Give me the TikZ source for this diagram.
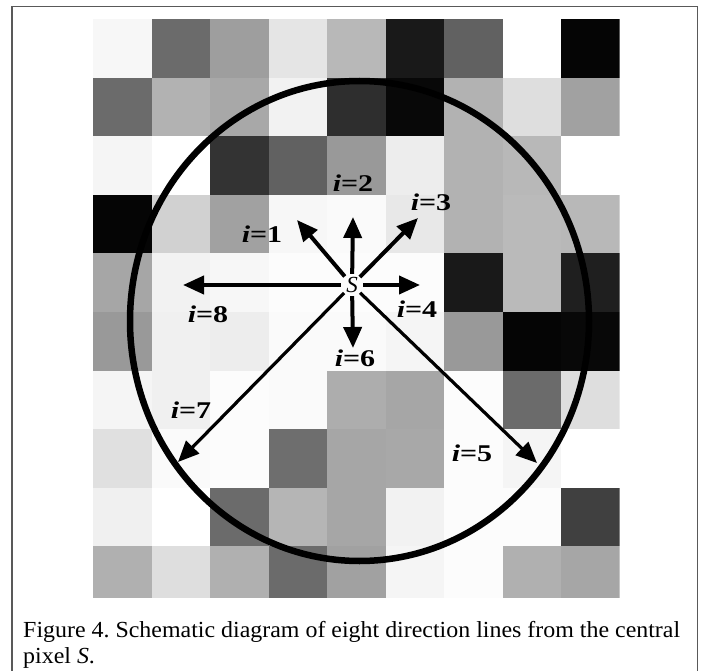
\documentclass[tikz,border=0pt]{standalone}
\usepackage{fontspec}
\setmainfont{Liberation Serif}
\usetikzlibrary{arrows.meta}
\frenchspacing

\begin{document}
\begin{tikzpicture}[x=1pt, y=-1pt]
  \useasboundingbox (0,0) rectangle (707,671);
  \tikzset{
    dirlab/.style={font=\fontsize{24}{24}\selectfont\bfseries, inner sep=0pt},
    ray/.style={line width=4pt, -{Triangle[length=21pt,width=18pt]}},
    longray/.style={ray, line width=3.2pt},
    caption/.style={font=\fontsize{23}{28}\selectfont, inner sep=0pt, anchor=base west},
  }
  \newcommand{\dirtext}[1]{\scalebox{1.25}[1]{\textit{i}=#1}}
  % grey pixels, whiteness in percent, one row per line
  \begin{scope}
    \clip (93,19.5) rectangle (619.5,597);
    \foreach \row [count=\r from 0] in {
        {97,42,62,90,72,10,38,100,2},
        {42,70,66,95,18,3,70,87,63},
        {96,100,20,38,60,93,70,72,100},
        {2,82,63,97,98,91,70,73,72},
        {65,95,97,99,99,99,10,73,12},
        {60,94,93,98,98,96,60,2,3},
        {96,94,99,98,68,65,99,42,87},
        {88,98,99,43,65,66,99,96,100},
        {94,100,42,71,65,95,99,99,25},
        {69,87,69,42,63,96,99,69,65}}{
      \foreach \v [count=\c from 0] in \row
        \fill[white!\v!black] (93+58.5*\c, 19.5+58.5*\r) rectangle ++(58.5,58.5);
    }
  \end{scope}

  \draw[black!65, line width=1.5pt] (12,671) -- (12,6.5) -- (697.5,6.5) -- (697.5,671);
  \draw[line width=6.5pt] (359.5,321) ellipse [x radius=229.5pt, y radius=240pt];

  \node[font=\fontsize{23}{23}\selectfont\itshape, circle, minimum size=22pt, inner sep=0pt] (S) at (352,285) {S};

  \coordinate (t1) at (297,220);
  \coordinate (t2) at (353,217);
  \coordinate (t3) at (418,218);
  \coordinate (t4) at (420,285);
  \coordinate (t5) at (537,463);
  \coordinate (t6) at (353,348);
  \coordinate (t7) at (178,462);
  \coordinate (t8) at (183,285);

  \draw[ray] (S) -- (t1);
  \draw[ray] (S) -- (t2);
  \draw[ray] (S) -- (t3);
  \draw[ray] (S) -- (t4);
  \draw[longray] (S) -- (t5);
  \draw[ray] (S) -- (t6);
  \draw[longray] (S) -- (t7);
  \draw[ray] (S) -- (t8);

  \node[dirlab] (l1) at (262,234) {\dirtext{1}};
  \node[dirlab] (l2) at (353,183) {\dirtext{2}};
  \node[dirlab] (l3) at (431,202) {\dirtext{3}};
  \node[dirlab] (l4) at (417,309) {\dirtext{4}};
  \node[dirlab] (l5) at (472,453) {\dirtext{5}};
  \node[dirlab] (l6) at (355,358) {\dirtext{6}};
  \node[dirlab] (l7) at (191,410) {\dirtext{7}};
  \node[dirlab] (l8) at (208,314) {\dirtext{8}};

  \node[caption] (cap1) at (23,637) {\scalebox{1.04}[1]{Figure 4. Schematic diagram of eight direction lines from the central}};
  \node[caption] (cap2) at (23,663) {\scalebox{1.04}[1]{pixel \textit{S}.}};
\end{tikzpicture}
\end{document}
